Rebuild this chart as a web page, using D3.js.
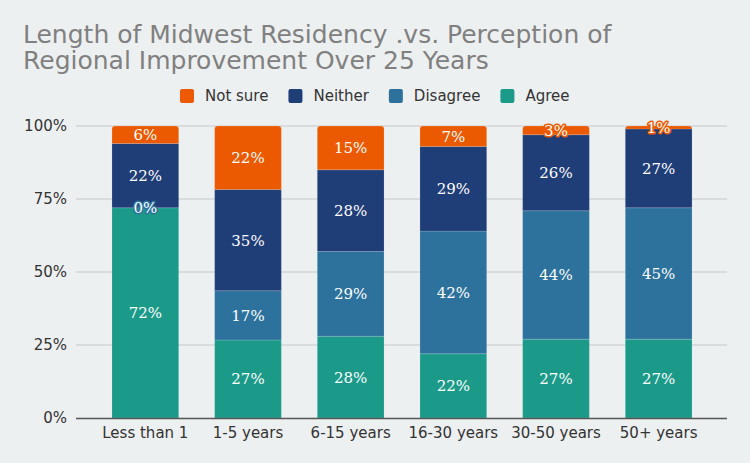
<!DOCTYPE html>
<html>
<head>
<meta charset="utf-8">
<script src="https://cdn.jsdelivr.net/npm/d3@7"></script>
<style>
  body { margin: 0; background: #edf0f1; }
  svg { display: block; font-family: "DejaVu Sans", Verdana, sans-serif; }
</style>
</head>
<body>
<svg id="chart"></svg>
<script>
const categories = ["Less than 1", "1-5 years", "6-15 years", "16-30 years", "30-50 years", "50+ years"]
const agree    = [72, 27, 28, 22, 27, 27]
const disagree = [0, 17, 29, 42, 44, 45]
const neither  = [22, 35, 28, 29, 26, 27]
const notSure  = [6, 22, 15, 7, 3, 1]
const yTicks = [0, 0.25, 0.5, 0.75, 1]

const seriesNames = ["Agree", "Disagree", "Neither", "Not sure"]
const seriesColors = {"Agree": "#1b9a8a", "Disagree": "#2d729c", "Neither": "#1f3d77", "Not sure": "#eb5a00"}

const W = 750, H = 463
const plotTop = 126, plotBottom = 418

const rows = categories.map((c, i) => ({
  cat: c, "Agree": agree[i], "Disagree": disagree[i], "Neither": neither[i], "Not sure": notSure[i]
}))

const stacked = d3.stack().keys(seriesNames).offset(d3.stackOffsetExpand)(rows)

const svg = d3.select("#chart").attr("width", W).attr("height", H)

svg.append("rect").attr("width", W).attr("height", H).attr("fill", "#edf0f1")

const x = d3.scaleBand().domain(categories).range([94, 710]).paddingInner(0.35).paddingOuter(0.175)
const y = d3.scaleLinear().domain([0, 1]).range([plotBottom, plotTop])

// title
const title = svg.append("text")
  .attr("x", 23).attr("y", 43)
  .attr("fill", "#808080")
  .attr("font-size", "25px")
title.append("tspan").attr("x", 23).text("Length of Midwest Residency .vs. Perception of")
title.append("tspan").attr("x", 23).attr("dy", 26).text("Regional Improvement Over 25 Years")

// grid
svg.append("g")
  .selectAll("line")
  .data(yTicks.slice(1))
  .enter()
  .append("line")
  .attr("x1", 76).attr("x2", 727)
  .attr("y1", d => y(d)).attr("y2", d => y(d))
  .attr("stroke", "#c4c7c9").attr("stroke-width", 1)

// y axis labels
const yAxis = svg.append("g")
  .attr("transform", "translate(76,0)")
  .call(d3.axisLeft(y).tickValues(yTicks).tickFormat(d3.format(".0%")).tickSize(0).tickPadding(9))
yAxis.select(".domain").remove()
yAxis.selectAll("text").attr("font-size", "15px").attr("fill", "#333").attr("font-family", "DejaVu Sans, sans-serif")

// bars
const layers = svg.append("g")
  .selectAll("g")
  .data(stacked)
  .enter()
  .append("g")
  .attr("fill", d => seriesColors[d.key])

layers.selectAll("path")
  .data(d => d.map(p => Object.assign(p, {key: d.key})))
  .enter()
  .append("path")
  .attr("d", d => {
    const x0 = x(d.data.cat), w = x.bandwidth()
    const y0 = y(d[0]), y1 = y(d[1])
    const h = y0 - y1
    if (h <= 0) return ""
    if (d.key === "Not sure") {
      const r = Math.min(3, h)
      return `M${x0},${y0}V${y1 + r}Q${x0},${y1} ${x0 + r},${y1}H${x0 + w - r}Q${x0 + w},${y1} ${x0 + w},${y1 + r}V${y0}Z`
    }
    return `M${x0},${y0}V${y1}H${x0 + w}V${y0}Z`
  })
  .attr("stroke", "rgba(255,255,255,0.25)")
  .attr("stroke-width", 0.6)

// x axis
const xAxis = svg.append("g")
  .attr("transform", `translate(0,${plotBottom})`)
  .call(d3.axisBottom(x).tickSize(0).tickPadding(9))
xAxis.select(".domain").attr("d", `M76,0.5H727`).attr("stroke", "#555").attr("stroke-width", 1.5)
xAxis.selectAll("text").attr("font-size", "15px").attr("fill", "#333").attr("font-family", "DejaVu Sans, sans-serif")

// value labels
const labels = svg.append("g")
layers.each(function(s) {
  labels.selectAll(null)
    .data(s)
    .enter()
    .append("text")
    .attr("x", d => x(d.data.cat) + x.bandwidth() / 2)
    .attr("y", d => (y(d[0]) + y(d[1])) / 2)
    .attr("dy", "0.36em")
    .attr("text-anchor", "middle")
    .attr("font-family", "DejaVu Serif, serif")
    .attr("font-size", "15px")
    .attr("fill", "#fff")
    .attr("stroke", seriesColors[s.key])
    .attr("stroke-width", 3)
    .attr("stroke-linejoin", "round")
    .attr("paint-order", "stroke")
    .text(d => d.data[s.key] + "%")
})

// legend
const legendItems = seriesNames.slice().reverse()
const legend = svg.append("g").attr("transform", "translate(0,96)")
let lx = 180
legendItems.forEach(name => {
  const g = legend.append("g").attr("transform", `translate(${lx},0)`)
  g.append("rect").attr("x", 0).attr("y", -7).attr("width", 14).attr("height", 14).attr("rx", 2)
    .attr("fill", seriesColors[name])
  const t = g.append("text").attr("x", 25).attr("dy", "0.35em")
    .attr("font-size", "15px").attr("fill", "#333").text(name)
  lx += 25 + t.node().getComputedTextLength() + 20
})
</script>
</body>
</html>
